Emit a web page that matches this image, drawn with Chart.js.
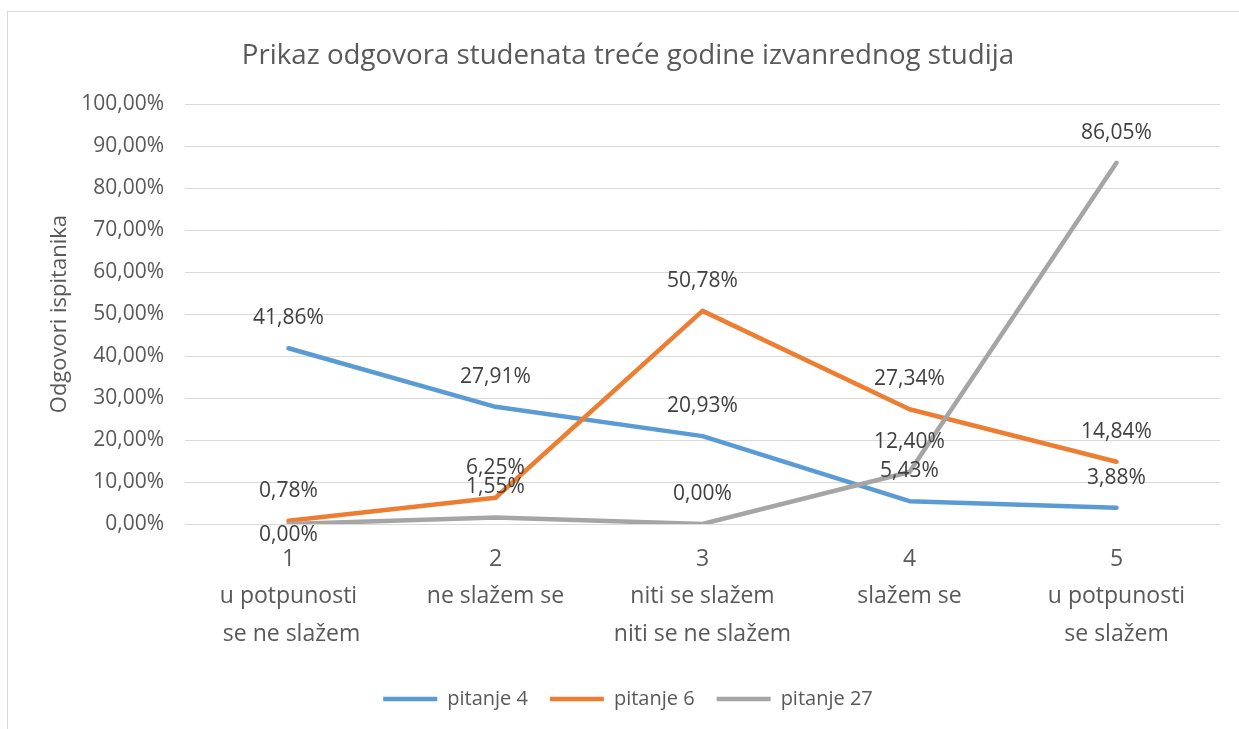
<!DOCTYPE html>
<html>
<head>
<meta charset="utf-8">
<script src="https://cdn.jsdelivr.net/npm/chart.js@4.4.0/dist/chart.umd.min.js"></script>
<style>
  html, body { margin: 0; padding: 0; background: #fff; }
  #wrap { position: absolute; left: 0; top: 0; width: 1239px; height: 729px; }
</style>
</head>
<body>
<div id="wrap"><canvas id="chart" width="1239" height="729"></canvas></div>
<script>
// Chart data
const categories = [
    ['1', 'u potpunosti', ' se ne slažem'],
    ['2', 'ne slažem se'],
    ['3', 'niti se slažem', 'niti se ne slažem'],
    ['4', 'slažem se'],
    ['5', 'u potpunosti', 'se slažem']
];
const seriesNames = ['pitanje 4', 'pitanje 6', 'pitanje 27'];
const pitanje4 = [41.86, 27.91, 20.93, 5.43, 3.88];
const pitanje6 = [0.78, 6.25, 50.78, 27.34, 14.84];
const pitanje27 = [0.00, 1.55, 0.00, 12.40, 86.05];

const colors = ['#5B9BD5', '#ED7D31', '#A5A5A5'];
const FONT = '"Open Sans", "Noto Sans", sans-serif';

Chart.defaults.font.family = FONT;
Chart.defaults.color = '#595959';

const fmt = v => v.toFixed(2).replace('.', ',') + '%';

// white background + thin outer frame like the Excel chart area
const framePlugin = {
    id: 'frame',
    beforeDraw(chart) {
        const ctx = chart.ctx;
        ctx.save();
        ctx.fillStyle = '#fff';
        ctx.fillRect(0, 0, chart.width, chart.height);
        ctx.strokeStyle = '#d9d9d9';
        ctx.lineWidth = 1;
        ctx.strokeRect(7.5, 11.5, chart.width, chart.height);
        ctx.restore();
    }
};

// value labels above the points
const labelPlugin = {
    id: 'valueLabels',
    afterDatasetsDraw(chart) {
        const ctx = chart.ctx;
        ctx.save();
        ctx.font = '21px ' + FONT;
        ctx.fillStyle = '#404040';
        ctx.textAlign = 'center';
        ctx.textBaseline = 'middle';
        chart.data.datasets.forEach((ds, i) => {
            const meta = chart.getDatasetMeta(i);
            meta.data.forEach((pt, j) => {
                // the first 0,00% of pitanje 27 sits below its point
                const dy = (i === 2 && j === 0) ? 11 : -30;
                ctx.fillText(fmt(ds.data[j]), pt.x, pt.y + dy);
            });
        });
        ctx.restore();
    }
};

const allSeries = [pitanje4, pitanje6, pitanje27];
const datasets = allSeries.map((vals, i) => ({
    label: seriesNames[i],
    data: vals,
    borderColor: colors[i],
    backgroundColor: colors[i],
    borderWidth: 4.5,
    borderCapStyle: 'round',
    borderJoinStyle: 'round',
    pointRadius: 0,
    pointHoverRadius: 0,
    tension: 0,
    order: 2 - i
}));

new Chart(document.getElementById('chart'), {
    type: 'line',
    data: { labels: categories, datasets: datasets },
    options: {
        responsive: false,
        animation: false,
        layout: { padding: { left: 36, right: 19, top: 0, bottom: 10 } },
        scales: {
            x: {
                offset: true,
                grid: { display: false },
                border: { display: false },
                ticks: {
                    color: '#595959',
                    font: { size: 23, lineHeight: 1.62 },
                    padding: 9,
                    maxRotation: 0,
                    autoSkip: false
                },
                afterFit(scale) { scale.height = 143; }
            },
            y: {
                min: 0,
                max: 100,
                ticks: {
                    stepSize: 10,
                    color: '#595959',
                    font: { size: 21 },
                    padding: 21,
                    callback: v => fmt(v)
                },
                grid: { color: '#d9d9d9', lineWidth: 1, drawTicks: false },
                border: { display: false },
                title: {
                    display: true,
                    text: 'Odgovori ispitanika',
                    color: '#595959',
                    font: { size: 22 },
                    padding: { top: 11 }
                },
                afterFit(scale) { scale.width = 149; }
            }
        },
        plugins: {
            title: {
                display: true,
                text: 'Prikaz odgovora studenata treće godine izvanrednog studija',
                color: '#595959',
                font: { size: 27.7, weight: 'normal' },
                padding: { top: 39, bottom: 32 }
            },
            legend: {
                position: 'bottom',
                labels: {
                    usePointStyle: true,
                    pointStyle: 'line',
                    pointStyleWidth: 54,
                    boxHeight: 19,
                    color: '#595959',
                    font: { size: 20 },
                    padding: 22,
                    sort: (a, b) => a.datasetIndex - b.datasetIndex
                }
            },
            tooltip: { enabled: false }
        }
    },
    plugins: [framePlugin, labelPlugin]
});
</script>
</body>
</html>
